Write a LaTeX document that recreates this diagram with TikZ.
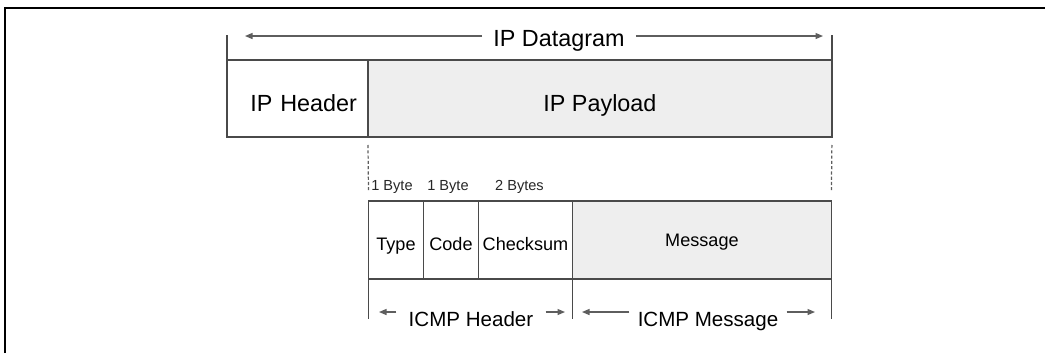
\documentclass[tikz,border=0pt]{standalone}
\usepackage{fontspec}
\setmainfont{Liberation Sans}
\usetikzlibrary{positioning,arrows.meta}
\definecolor{grey700}{HTML}{4A4A4A}
\definecolor{grey500}{HTML}{5E5E5E}
\definecolor{grey100}{HTML}{EEEEEE}
\newcommand{\fsz}[1]{\fontsize{#1}{#1}\selectfont}
\tikzset{
  cell/.style   ={draw=grey700, line width=0.7pt, inner sep=0pt, outer sep=0pt,
                  minimum height=1.54cm, font=\fsz{13.3},
                  text depth=0pt, text height=14.8pt},
  cellp/.style  ={cell, fill=grey100},
  fld/.style    ={draw=grey700, line width=0.7pt, inner sep=0pt, outer sep=0pt,
                  minimum height=1.56cm, font=\fsz{10.3},
                  text depth=0pt, text height=11.5pt},
  fldp/.style   ={fld, fill=grey100, text height=7.5pt},
  dimarr/.style ={-{Triangle[length=0.15cm,width=0.12cm]}, draw=grey500,
                  line width=0.7pt},
  tickln/.style ={draw=grey700, line width=0.7pt},
  dsh/.style    ={draw=grey500, line width=0.7pt, dash pattern=on 1.8pt off 1.2pt},
  bytes/.style  ={font=\fsz{8.3}, inner sep=0pt, text=black!85},
  spanlbl/.style={font=\fsz{11.7}, inner ysep=0pt, text depth=0pt},
  outline/.style={draw=black, line width=0.9pt}
}

\begin{document}
\begin{tikzpicture}[x=0.02cm, y=-0.02cm]
\useasboundingbox (0,0) rectangle (1045,353);
\draw[outline] (5,353) -- (5,8) -- (1045,8);

% IP datagram
\node[cell, minimum width=2.82cm, text width=2.38cm, align=right,
      inner xsep=0.22cm] (iphdr) at (297.5,98.5) {IP Header};
\node[cellp, minimum width=9.28cm, right=0pt of iphdr] (ippay) {IP Payload};
\draw[tickln] (iphdr.north west) -- ++(0,-25);
\draw[tickln] (ippay.north east) -- ++(0,-25);
\node[font=\fsz{13.3}, inner ysep=0pt, inner xsep=0.22cm, text depth=0pt]
  (dgram) at (559,38.7) {IP Datagram};
\coordinate (dgl) at (245,36);
\coordinate (dgr) at (823,36);
\draw[dimarr] (dgram.west |- dgl) -- (dgl);
\draw[dimarr] (dgram.east |- dgr) -- (dgr);

% ICMP fields
\node[fld, anchor=north west, minimum width=1.1cm] (ftype) at (368.5,201) {Type};
\node[fld, minimum width=1.1cm, right=0pt of ftype] (fcode) {Code};
\node[fld, minimum width=1.88cm, right=0pt of fcode] (fcks) {Checksum};
\node[fldp, minimum width=5.18cm, right=0pt of fcks] (fmsg) {Message};
\node[bytes, above=0.14cm of ftype, xshift=-0.08cm] (b1) {1 Byte};
\node[bytes, above=0.14cm of fcode, xshift=-0.06cm] (b2) {1 Byte};
\node[bytes, above=0.14cm of fcks, xshift=-0.12cm] (b3) {2 Bytes};
\draw[dsh] ([yshift=-0.16cm]ippay.south west) -- ([yshift=0.22cm]ftype.north west);
\draw[dsh] ([yshift=-0.16cm]ippay.south east) -- ([yshift=0.22cm]fmsg.north east);

% ICMP spans
\draw[tickln] (ftype.south west) -- ++(0,40);
\draw[tickln] (fcks.south east) -- ++(0,40);
\draw[tickln] (fmsg.south east) -- ++(0,40);
\node[spanlbl, inner xsep=0.24cm] (icmph) at (471,319) {ICMP Header};
\node[spanlbl, inner xsep=0.16cm] (icmpm) at (708,319) {ICMP Message};
\coordinate (ahl) at (379,312);
\coordinate (ahr) at (565,312);
\coordinate (aml) at (582,312);
\coordinate (amr) at (815,312);
\draw[dimarr] (icmph.west |- ahl) -- (ahl);
\draw[dimarr] (icmph.east |- ahr) -- (ahr);
\draw[dimarr] (icmpm.west |- aml) -- (aml);
\draw[dimarr] (icmpm.east |- amr) -- (amr);
\end{tikzpicture}
\end{document}
